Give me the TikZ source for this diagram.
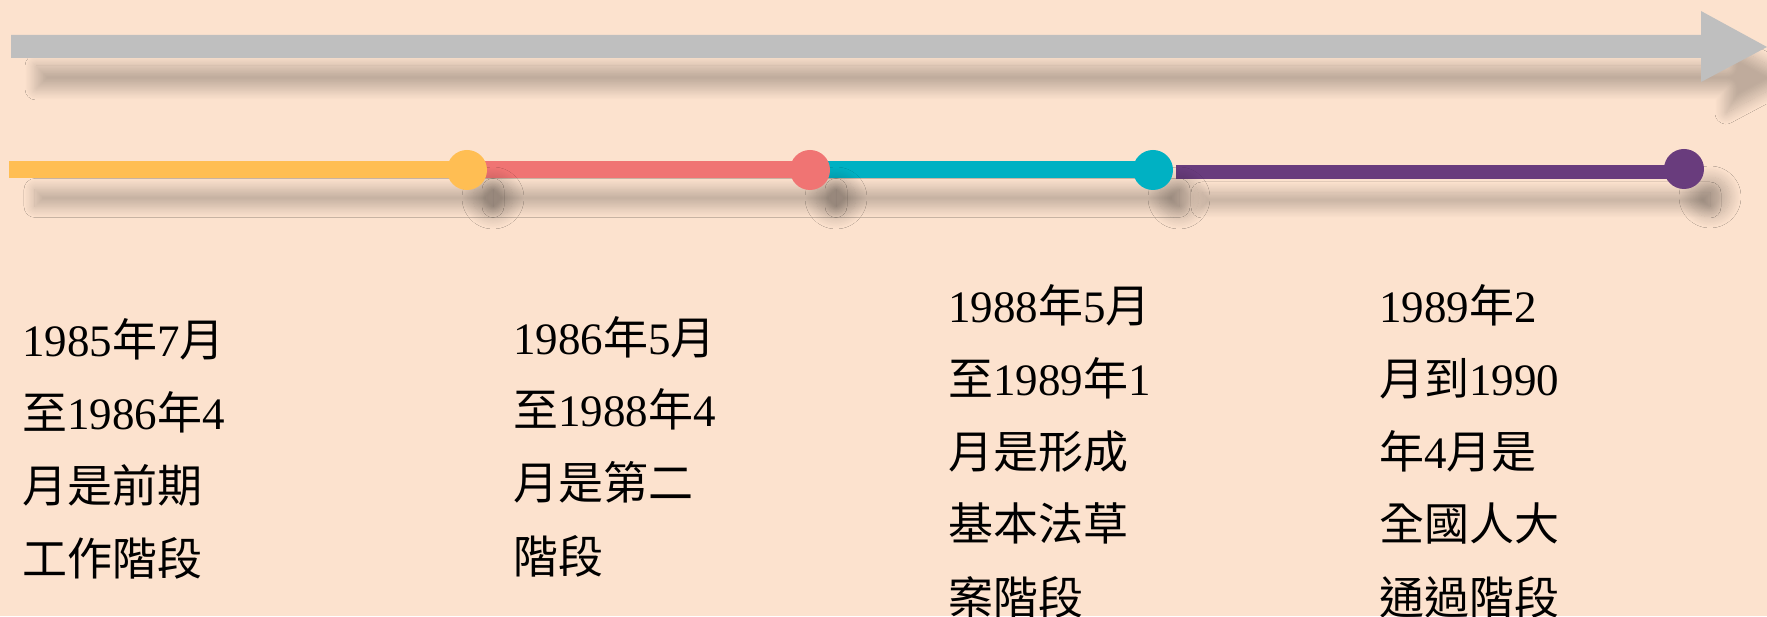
\documentclass[tikz,border=0pt]{standalone}
\usepackage{fontspec}
\setmainfont{Liberation Serif}
\newfontfamily\cjk{Noto Sans CJK TC}
\usetikzlibrary{shadows.blur}
\definecolor{bgpeach}{HTML}{FCE2CE}
\definecolor{arrowgray}{HTML}{BFBFBF}
\definecolor{tlyellow}{HTML}{FFBE53}
\definecolor{tlpink}{HTML}{F07473}
\definecolor{tlteal}{HTML}{00B1C3}
\definecolor{tlpurple}{HTML}{693C7D}
\newcommand\zh[1]{{\cjk #1}}
\tikzset{%
    timeline dot/.style={
      circle,
      draw=none,
      inner sep=0pt,
      minimum size=40pt,
      blur shadow={shadow xshift=26pt, shadow yshift=-28pt, shadow blur radius=11pt, shadow blur steps=16, shadow opacity=22}
    },
    timeline bar/.style={
      blur shadow={shadow xshift=26pt, shadow yshift=-28pt, shadow blur radius=11pt, shadow blur steps=16, shadow opacity=24}
    },
    stage text/.style= {
      anchor=base west,
      align=left,
      inner sep=0pt,
      font=\fontsize{45}{73}\selectfont
    }
  }
\begin{document}
\begin{tikzpicture}[x=1pt, y=1pt, scale = 1]
      \useasboundingbox (0,0) rectangle (1767,616);
      \fill [bgpeach] (0,0) rectangle (1767,616);

      \fill [arrowgray, blur shadow={shadow xshift=25pt, shadow yshift=-31pt, shadow blur radius=11pt, shadow blur steps=16, shadow opacity=24}]
        (11,558) -- (1701,558) -- (1701,534) -- (1767,569) -- (1701,605) -- (1701,581) -- (11,581) -- cycle;

      \coordinate (start) at (9,446);
      \coordinate (p1) at (467,446);
      \coordinate (p2) at (810,446);
      \coordinate (p3) at (1153,446);
      \coordinate (gap) at (1176,444);
      \coordinate (p4) at (1684,447);

      \fill [timeline bar, tlyellow] ([yshift=-8.5pt]start) rectangle ([yshift=8.5pt]p1);
      \fill [timeline bar, tlpink] ([yshift=-8.5pt]p1) rectangle ([yshift=8.5pt]p2);
      \fill [timeline bar, tlteal] ([yshift=-8.5pt]p2) rectangle ([yshift=8.5pt]p3);
      \fill [timeline bar, tlpurple] ([yshift=-7pt]gap) rectangle ([yshift=4pt]p4);

      \node [timeline dot, fill=tlyellow] (dot1) at (p1) {};
      \node [timeline dot, fill=tlpink] (dot2) at (p2) {};
      \node [timeline dot, fill=tlteal] (dot3) at (p3) {};
      \node [timeline dot, fill=tlpurple] (dot4) at (p4) {};

      \node [stage text] (stage1) at (22,41)
        {1985\zh{年}7\zh{月}\\\zh{至}1986\zh{年}4\\\zh{月是前期}\\\zh{工作階段}};
      \node [stage text] (stage2) at (513,43)
        {1986\zh{年}5\zh{月}\\\zh{至}1988\zh{年}4\\\zh{月是第二}\\\zh{階段}};
      \node [stage text] (stage3) at (948,2)
        {1988\zh{年}5\zh{月}\\\zh{至}1989\zh{年}1\\\zh{月是形成}\\\zh{基本法草}\\\zh{案階段}};
      \node [stage text] (stage4) at (1379,2)
        {1989\zh{年}2\\\zh{月到}1990\\\zh{年}4\zh{月是}\\\zh{全國人大}\\\zh{通過階段}};

    \end{tikzpicture}
\end{document}
